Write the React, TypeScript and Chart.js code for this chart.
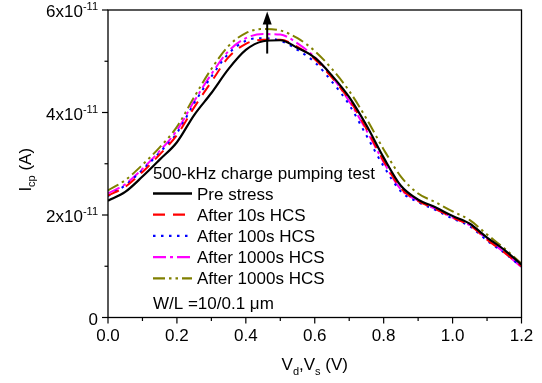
import { useEffect, useRef } from 'react';
import { Chart, registerables } from 'chart.js';

Chart.register(...registerables);

const FONT = '"Liberation Sans", Arial, Helvetica, sans-serif';

// Drain/source bias (V)
const VOLTAGE = [
  0, 0.05, 0.1, 0.15, 0.2, 0.25, 0.3, 0.35, 0.4, 0.45, 0.5, 0.55, 0.6,
  0.65, 0.7, 0.75, 0.8, 0.85, 0.9, 0.95, 1.0, 1.05, 1.1, 1.15, 1.2,
];

// Charge pumping current, in units of 1e-11 A
const PRE_STRESS = [
  2.28, 2.45, 2.75, 3.08, 3.42, 3.95, 4.38, 4.85, 5.22, 5.39, 5.41, 5.26, 5.07,
  4.72, 4.3, 3.75, 3.12, 2.57, 2.3, 2.15, 1.98, 1.83, 1.56, 1.32, 1.03,
];
const AFTER_10S = [
  2.38, 2.55, 2.84, 3.18, 3.56, 4.1, 4.6, 5.08, 5.34, 5.42, 5.42, 5.28, 5.04,
  4.68, 4.25, 3.68, 3.05, 2.52, 2.27, 2.12, 1.95, 1.8, 1.52, 1.27, 1.0,
];
const AFTER_100S = [
  2.37, 2.58, 2.88, 3.22, 3.6, 4.18, 4.7, 5.15, 5.4, 5.45, 5.4, 5.22, 4.98,
  4.6, 4.15, 3.55, 2.95, 2.46, 2.25, 2.1, 1.93, 1.78, 1.5, 1.26, 0.99,
];
const AFTER_1000S = [
  2.42, 2.6, 2.9, 3.25, 3.65, 4.22, 4.75, 5.2, 5.45, 5.53, 5.52, 5.35, 5.08,
  4.7, 4.22, 3.65, 3.03, 2.5, 2.28, 2.12, 1.95, 1.8, 1.53, 1.27, 0.98,
];
const AFTER_1000S_B = [
  2.48, 2.68, 2.98, 3.32, 3.72, 4.3, 4.85, 5.3, 5.55, 5.63, 5.6, 5.45, 5.2,
  4.85, 4.42, 3.88, 3.28, 2.75, 2.42, 2.25, 2.07, 1.9, 1.62, 1.35, 1.05,
];

const SERIES_LABELS = [
  'Pre stress',
  'After 10s HCS',
  'After 100s HCS',
  'After 1000s HCS',
  'After 1000s HCS',
];
const SERIES_COLORS = ['#000000', '#ff0000', '#0000ff', '#ff00ff', '#808000'];
const SERIES_DASHES: number[][] = [
  [],
  [12, 8],
  [2.5, 5.5],
  [13, 4, 3, 4],
  [12, 4, 2.5, 4, 2.5, 4],
];
const SERIES_DATA = [PRE_STRESS, AFTER_10S, AFTER_100S, AFTER_1000S, AFTER_1000S_B];

const X_TICK_VALUES = [0, 0.2, 0.4, 0.6, 0.8, 1.0, 1.2];
const X_TICK_LABELS = ['0.0', '0.2', '0.4', '0.6', '0.8', '1.0', '1.2'];
const Y_TICK_VALUES = [0, 2, 4, 6];
const Y_TICK_MANTISSA = ['0', '2x10', '4x10', '6x10'];
const Y_TICK_EXPONENT = ['', '-11', '-11', '-11'];

const LEGEND_TITLE = '500-kHz charge pumping test';
const LEGEND_NOTE = 'W/L =10/0.1 \u03bcm';

// Arrow marking the peak shift with stress time
const ARROW_X = 0.462;
const ARROW_FROM = 5.15;
const ARROW_TO = 5.97;

function drawRichText(
  ctx: CanvasRenderingContext2D,
  parts: { text: string; size: number; dy: number }[],
  x: number,
  y: number,
) {
  let cx = x;
  for (const p of parts) {
    ctx.font = `${p.size}px ${FONT}`;
    ctx.fillText(p.text, cx, y + p.dy);
    cx += ctx.measureText(p.text).width;
  }
}

function richWidth(ctx: CanvasRenderingContext2D, parts: { text: string; size: number }[]) {
  let w = 0;
  for (const p of parts) {
    ctx.font = `${p.size}px ${FONT}`;
    w += ctx.measureText(p.text).width;
  }
  return w;
}

const axesPlugin = {
  id: 'axesFrame',
  afterDraw(chart: any) {
    const { ctx, chartArea: a, scales } = chart;
    const xs = scales.x;
    const ys = scales.y;
    ctx.save();
    ctx.strokeStyle = '#000';
    ctx.fillStyle = '#000';
    ctx.lineWidth = 1.3;
    ctx.setLineDash([]);
    ctx.strokeRect(a.left, a.top, a.right - a.left, a.bottom - a.top);

    // x ticks (major every 0.2, minor every 0.1)
    ctx.lineWidth = 1.2;
    for (let i = 0; i <= 12; i++) {
      const px = xs.getPixelForValue(i * 0.1);
      const len = i % 2 === 0 ? 6 : 3.5;
      ctx.beginPath();
      ctx.moveTo(px, a.bottom);
      ctx.lineTo(px, a.bottom + len);
      ctx.stroke();
    }
    // y ticks (major every 2, minor every 1)
    for (let i = 0; i <= 6; i++) {
      const py = ys.getPixelForValue(i);
      const len = i % 2 === 0 ? 6 : 3.5;
      ctx.beginPath();
      ctx.moveTo(a.left - len, py);
      ctx.lineTo(a.left, py);
      ctx.stroke();
    }

    // x tick labels
    ctx.font = `17px ${FONT}`;
    ctx.textAlign = 'center';
    ctx.textBaseline = 'alphabetic';
    X_TICK_VALUES.forEach((v, i) => {
      ctx.fillText(X_TICK_LABELS[i], xs.getPixelForValue(v), a.bottom + 23);
    });

    // y tick labels with exponent
    ctx.textAlign = 'left';
    Y_TICK_VALUES.forEach((v, i) => {
      const py = ys.getPixelForValue(v);
      const parts = [
        { text: Y_TICK_MANTISSA[i], size: 17, dy: 0 },
        { text: Y_TICK_EXPONENT[i], size: 11, dy: -7 },
      ];
      const w = richWidth(ctx, parts);
      drawRichText(ctx, parts, a.left - 10 - w, py + 7);
    });

    // x axis title
    const xParts = [
      { text: 'V', size: 17, dy: 0 },
      { text: 'd', size: 11, dy: 5 },
      { text: ',', size: 17, dy: 0 },
      { text: 'V', size: 17, dy: 0 },
      { text: 's', size: 11, dy: 5 },
      { text: ' (V)', size: 17, dy: 0 },
    ];
    const xw = richWidth(ctx, xParts);
    drawRichText(ctx, xParts, (a.left + a.right) / 2 - xw / 2, a.bottom + 52);

    // y axis title (rotated)
    const yParts = [
      { text: 'I', size: 17, dy: 0 },
      { text: 'cp', size: 11, dy: 4 },
      { text: ' (A)', size: 17, dy: 0 },
    ];
    const yw = richWidth(ctx, yParts);
    ctx.save();
    ctx.translate(0, (a.top + a.bottom) / 2 + 6);
    ctx.rotate(-Math.PI / 2);
    drawRichText(ctx, yParts, -yw / 2, 31);
    ctx.restore();

    // arrow
    const ax = xs.getPixelForValue(ARROW_X);
    const ay0 = ys.getPixelForValue(ARROW_FROM);
    const ay1 = ys.getPixelForValue(ARROW_TO);
    ctx.lineWidth = 2;
    ctx.beginPath();
    ctx.moveTo(ax, ay0);
    ctx.lineTo(ax, ay1 + 10);
    ctx.stroke();
    ctx.beginPath();
    ctx.moveTo(ax, ay1);
    ctx.lineTo(ax - 4.5, ay1 + 13);
    ctx.lineTo(ax + 4.5, ay1 + 13);
    ctx.closePath();
    ctx.fill();

    // legend inside the plot
    const lx = a.left + 45;
    let ly = a.top + 163;
    ctx.font = `17px ${FONT}`;
    ctx.textAlign = 'left';
    ctx.fillText(LEGEND_TITLE, lx, ly + 6);
    const rowStep = 21.2;
    SERIES_LABELS.forEach((label, i) => {
      const ry = a.top + 183.5 + i * rowStep;
      ctx.save();
      ctx.strokeStyle = SERIES_COLORS[i];
      ctx.lineWidth = i === 0 ? 2.4 : 2.2;
      ctx.setLineDash(SERIES_DASHES[i]);
      ctx.beginPath();
      ctx.moveTo(lx, ry);
      ctx.lineTo(lx + 39, ry);
      ctx.stroke();
      ctx.restore();
      ctx.font = `17px ${FONT}`;
      ctx.fillText(label, lx + 44, ry + 6);
    });
    ctx.fillText(LEGEND_NOTE, lx, a.top + 292.7 + 6);
    ctx.restore();
  },
};

export default function App() {
  const canvasRef = useRef<HTMLCanvasElement | null>(null);

  useEffect(() => {
    const canvas = canvasRef.current;
    if (!canvas) return;
    const datasets = SERIES_DATA.map((series, i) => ({
      label: SERIES_LABELS[i],
      data: series.map((v, j) => ({ x: VOLTAGE[j], y: v })),
      borderColor: SERIES_COLORS[i],
      backgroundColor: SERIES_COLORS[i],
      borderWidth: i === 0 ? 2.2 : 2,
      borderDash: SERIES_DASHES[i],
      pointRadius: 0,
      fill: false,
      cubicInterpolationMode: 'monotone' as const,
    }));
    const chart = new Chart(canvas, {
      type: 'line',
      data: { datasets },
      options: {
        animation: false,
        responsive: false,
        events: [],
        layout: { padding: { left: 108, top: 10, right: 20.5, bottom: 65.5 } },
        plugins: { legend: { display: false }, tooltip: { enabled: false } },
        scales: {
          x: { type: 'linear', min: 0, max: 1.2, display: false },
          y: { type: 'linear', min: 0, max: 6, display: false },
        },
      },
      plugins: [axesPlugin],
    });
    return () => chart.destroy();
  }, []);

  return (
    <div style={{ position: 'fixed', left: 0, top: 0, width: 542, height: 383, background: '#fff' }}>
      <canvas ref={canvasRef} width={542} height={383} />
    </div>
  );
}
